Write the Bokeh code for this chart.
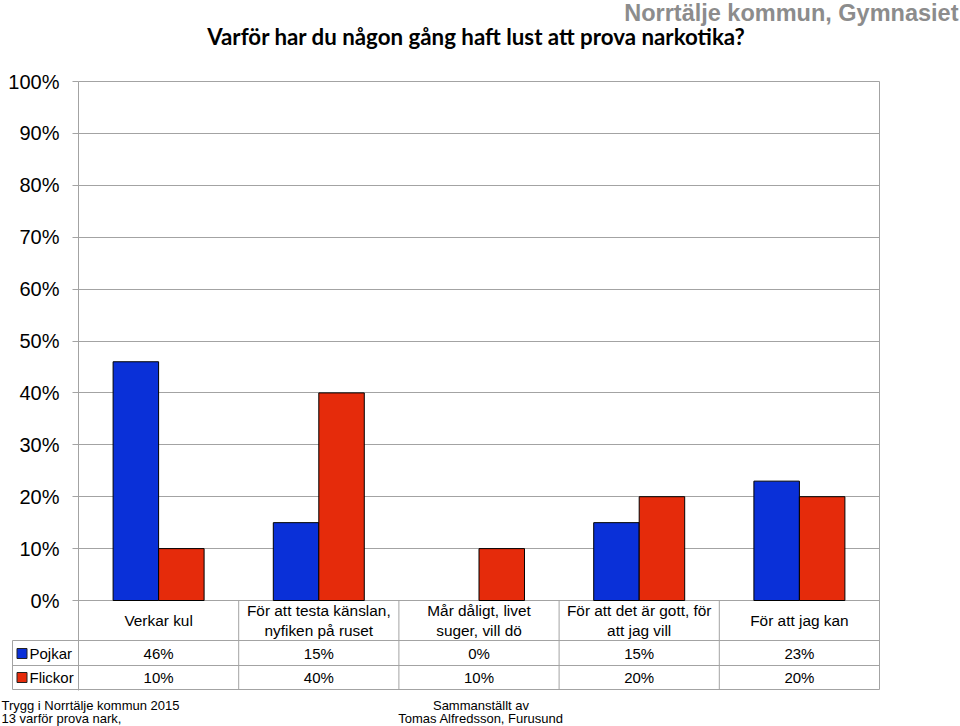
from bokeh.plotting import figure
from bokeh.models import Range1d, FixedTicker, NumeralTickFormatter, LinearAxis, Grid
from bokeh.embed import file_html
from bokeh.resources import INLINE
from bokeh.core.properties import value

# ---------------- data ----------------
categories = ["Verkar kul",
              "För att testa känslan,\nnyfiken på ruset",
              "Mår dåligt, livet\nsuger, vill dö",
              "För att det är gott, för\natt jag vill",
              "För att jag kan"]
series_names = ["Pojkar", "Flickor"]
pojkar = [46, 15, 0, 15, 23]
flickor = [10, 40, 10, 20, 20]
y_ticks = [0, 10, 20, 30, 40, 50, 60, 70, 80, 90, 100]
title_text = "Varför har du någon gång haft lust att prova narkotika?"
region_text = "Norrtälje kommun, Gymnasiet"
footer_left = ["Trygg i Norrtälje kommun 2015", "13 varför prova nark,"]
footer_mid = ["Sammanställt av", "Tomas Alfredsson, Furusund"]

BLUE = "#0a30d8"
RED = "#e52b0b"
GRID = "#a3a3a3"
FONT = "Liberation Sans"

# page-pixel helpers (layout only)
PX = 160.2   # px per category
PY = 519.0   # px per 100 %
X0, Y0 = 78, 600
def dx(px): return (px - X0) / PX
def dy(py): return (Y0 - py) / PY

W, H = 960, 726
p = figure(width=W, height=H, output_backend="svg", toolbar_location=None,
           x_range=Range1d(dx(0), dx(W)), y_range=Range1d(dy(H), dy(0)),
           x_axis_location=None, y_axis_location=None, min_border=0)
p.title.visible = False
p.outline_line_color = None
p.xgrid.visible = False
p.ygrid.visible = False

n = len(categories)
ticks = [t / 100 for t in y_ticks]

# y axis drawn at the left edge of the plot area
yax = LinearAxis(fixed_location=0, bounds=(dy(689.5), 1.0),
                 ticker=FixedTicker(ticks=ticks),
                 formatter=NumeralTickFormatter(format="0%"))
yax.major_label_text_font = FONT
yax.major_label_text_font_size = "20px"
yax.major_label_text_color = "black"
yax.major_label_standoff = 13
yax.major_tick_out = 6
yax.major_tick_in = 0
yax.minor_tick_out = 0
yax.minor_tick_in = 0
yax.axis_line_color = GRID
yax.major_tick_line_color = GRID
p.add_layout(yax, "left")

try:
    grid = Grid(dimension=1, ticker=FixedTicker(ticks=ticks), cross_bounds=(0, n),
                grid_line_color=GRID)
    p.add_layout(grid)
except Exception:
    p.segment(x0=[0] * len(ticks), y0=ticks, x1=[n] * len(ticks), y1=ticks,
              line_color=GRID, line_width=1)

bw = 0.284
p.vbar(x=[i + 0.5 - bw / 2 for i in range(n)], top=[v / 100 for v in pojkar], width=bw,
       fill_color=BLUE, line_color=["black" if v > 0 else None for v in pojkar], line_width=1)
p.vbar(x=[i + 0.5 + bw / 2 for i in range(n)], top=[v / 100 for v in flickor], width=bw,
       fill_color=RED, line_color=["black" if v > 0 else None for v in flickor], line_width=1)

# ---------------- data table ----------------
p.text(x=[i + 0.5 for i in range(n)], y=[dy(620)] * n, text=categories,
       text_align="center", text_baseline="middle", text_font=value(FONT),
       text_font_size="15.4px", text_color="black", text_line_height=1.22)

left_x = dx(12)
for yy in [640, 665, 689]:
    p.segment(x0=[left_x], y0=[dy(yy)], x1=[n], y1=[dy(yy)], line_color=GRID, line_width=1)
p.segment(x0=list(range(1, n)), y0=[dy(689)] * (n - 1), x1=list(range(1, n)), y1=[0] * (n - 1),
          line_color=GRID, line_width=1)
p.segment(x0=[n], y0=[dy(689)], x1=[n], y1=[1.0], line_color=GRID, line_width=1)
p.segment(x0=[left_x], y0=[dy(640)], x1=[left_x], y1=[dy(689)], line_color=GRID, line_width=1)

row_y = [653, 677]
colors = [BLUE, RED]
for name, vals, yy, c in zip(series_names, [pojkar, flickor], row_y, colors):
    p.scatter(x=[dx(21.5)], y=[dy(yy)], marker="square", size=10, fill_color=c,
              line_color="#222222", line_width=1)
    p.text(x=[dx(29)], y=[dy(yy)], text=[name], text_align="left", text_baseline="middle",
           text_font=value(FONT), text_font_size="15px", text_color="black")
    p.text(x=[i + 0.5 for i in range(n)], y=[dy(yy)] * n, text=[f"{v}%" for v in vals],
           text_align="center", text_baseline="middle", text_font=value(FONT),
           text_font_size="15px", text_color="black")

# ---------------- titles and footer ----------------
p.text(x=[dx(476)], y=[dy(36)], text=[title_text], text_align="center",
       text_baseline="middle", text_font=value("Lato"), text_font_style="bold",
       text_font_size="22.3px", text_color="black")
p.text(x=[dx(958)], y=[dy(12)], text=[region_text], text_align="right",
       text_baseline="middle", text_font=value(FONT), text_font_style="bold",
       text_font_size="23.5px", text_color="#8c8c8c")

p.text(x=[dx(1)] * 2, y=[dy(705), dy(718)], text=footer_left, text_align="left",
       text_baseline="middle", text_font=value(FONT), text_font_size="13px", text_color="black")
p.text(x=[dx(480.5)] * 2, y=[dy(705), dy(718)], text=footer_mid, text_align="center",
       text_baseline="middle", text_font=value(FONT), text_font_size="13px", text_color="black")

open("out.html", "w").write(file_html(p, INLINE))
